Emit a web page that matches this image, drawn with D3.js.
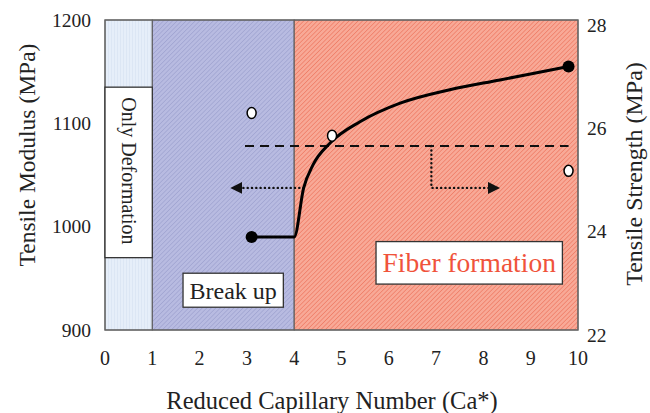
<!DOCTYPE html>
<html>
<head>
<meta charset="utf-8">
<script src="https://cdn.jsdelivr.net/npm/d3@7"></script>
</head>
<body style="margin:0">
<script>
// regions along the reduced capillary number
var regionNames = ["Only Deformation", "Break up", "Fiber formation"];
var regionStart = [0, 1, 4];
var regionEnd = [1, 4, 10];

// tick labels
var xTicks = [0, 1, 2, 3, 4, 5, 6, 7, 8, 9, 10];
var modulusTicks = [900, 1000, 1100, 1200];
var strengthTicks = [22, 24, 26, 28];

// tensile strength (filled dots, right axis)
var strengthCa = [3.1, 9.8];
var strengthVal = [23.8, 27.1];

// trend curve through strength (right axis)
var trendCa = [3.1, 4.0, 4.2, 4.4, 4.76, 5.39, 6.24, 7.29, 8.35, 9.8];
var trendVal = [23.8, 23.8, 24.75, 25.2, 25.62, 26.03, 26.39, 26.65, 26.84, 27.1];

// tensile modulus (open dots, left axis)
var modulusCa = [3.1, 4.8, 9.8];
var modulusVal = [1110, 1088, 1054];

// dashed level of modulus
var levelCa = [2.96, 9.8];
var levelVal = 1078;

// dotted arrows (strength level)
var arrowLevel = 24.75;
var arrowLeftCa = [4.2, 2.7];
var arrowRightCa = [6.9, 8.3];

var serif = "Liberation Serif";
var ink = "#222";

// set the dimensions and margins of the graph
var margin = {top: 20, right: 72, bottom: 83, left: 105},
    width = 650 - margin.left - margin.right,
    height = 413 - margin.top - margin.bottom;

var svg = d3.select("body")
  .append("svg")
    .attr("width", width + margin.left + margin.right)
    .attr("height", height + margin.top + margin.bottom);

var g = svg.append("g")
  .attr("transform", "translate(" + margin.left + "," + margin.top + ")");

var x = d3.scaleLinear().domain([0, 10]).range([0, width]);
var yL = d3.scaleLinear().domain([900, 1200]).range([height, 0]);
var yR = d3.scaleLinear().domain([22, 28]).range([height, 0]);

// patterns for the regions
var defs = svg.append("defs");

function hatch(id, base, line, size, angle, lw) {
  var p = defs.append("pattern")
    .attr("id", id)
    .attr("patternUnits", "userSpaceOnUse")
    .attr("width", size).attr("height", size)
    .attr("patternTransform", "rotate(" + angle + ")");
  p.append("rect").attr("width", size).attr("height", size).attr("fill", base);
  p.append("line")
    .attr("x1", 0).attr("y1", 0).attr("x2", 0).attr("y2", size)
    .attr("stroke", line).attr("stroke-width", lw);
}
hatch("pDeform", "#e6eef9", "#d2def0", 3, 0, 1);
hatch("pBreak", "#b8bbe1", "#989ccc", 3.2, 45, 1.1);
hatch("pFiber", "#f8a997", "#ee7660", 3.2, 45, 1.3);
var fills = ["url(#pDeform)", "url(#pBreak)", "url(#pFiber)"];

g.selectAll(".region")
  .data(regionNames)
  .enter().append("rect")
    .attr("class", "region")
    .attr("x", (d, i) => x(regionStart[i]))
    .attr("width", (d, i) => x(regionEnd[i]) - x(regionStart[i]))
    .attr("y", 0)
    .attr("height", height)
    .attr("fill", (d, i) => fills[i])
    .attr("stroke", "#555")
    .attr("stroke-width", 1);

// frame
g.append("rect")
  .attr("width", width).attr("height", height)
  .attr("fill", "none").attr("stroke", "#666").attr("stroke-width", 1.2);

// "Only Deformation" box (vertical text)
var odTop = yL(1135), odBot = yL(970);
g.append("rect")
  .attr("x", x(0)).attr("y", odTop)
  .attr("width", x(1) - x(0)).attr("height", odBot - odTop)
  .attr("fill", "#fff").attr("stroke", "#333").attr("stroke-width", 1.3);
g.append("text")
  .attr("transform", "translate(" + (x(0.5)) + "," + yL(1054) + ") rotate(90)")
  .attr("text-anchor", "middle")
  .attr("dy", "0.33em")
  .attr("font-family", serif)
  .attr("font-size", 20)
  .attr("fill", ink)
  .text(regionNames[0]);

// labelled boxes
function labelBox(txt, cx, cy, size, color, padX, padY) {
  var t = g.append("text")
    .attr("x", cx).attr("y", cy)
    .attr("text-anchor", "middle")
    .attr("dy", "0.35em")
    .attr("font-family", serif)
    .attr("font-size", size)
    .attr("fill", color)
    .text(txt);
  var w = t.node().getComputedTextLength();
  g.insert("rect", function() { return t.node(); })
    .attr("x", cx - w / 2 - padX).attr("y", cy - size / 2 - padY)
    .attr("width", w + 2 * padX).attr("height", size + 2 * padY)
    .attr("fill", "#fff").attr("stroke", "#333").attr("stroke-width", 1.3);
}
labelBox(regionNames[1], x(2.71), yR(22.77), 24, ink, 6.5, 5);
labelBox(regionNames[2], x(7.7), yR(23.3), 27.5, "#f0533b", 6.5, 7.5);

// dashed modulus level
g.append("line")
  .attr("x1", x(levelCa[0])).attr("x2", x(levelCa[1]))
  .attr("y1", yL(levelVal)).attr("y2", yL(levelVal))
  .attr("stroke", "#111").attr("stroke-width", 2)
  .attr("stroke-dasharray", "9,6");

// dotted arrows
defs.append("marker")
  .attr("id", "ah")
  .attr("viewBox", "0 0 10 10")
  .attr("refX", 8).attr("refY", 5)
  .attr("markerWidth", 5).attr("markerHeight", 5)
  .attr("orient", "auto")
  .append("path").attr("d", "M0,0L10,5L0,10z").attr("fill", "#111");

var line = d3.line().x(d => x(d[0])).y(d => d[1]);
g.append("path")
  .attr("d", line([[arrowLeftCa[0], yR(arrowLevel)], [arrowLeftCa[1], yR(arrowLevel)]]))
  .attr("fill", "none").attr("stroke", "#111").attr("stroke-width", 2.4)
  .attr("stroke-dasharray", "0.1,4.2").attr("stroke-linecap", "round")
  .attr("marker-end", "url(#ah)");
g.append("path")
  .attr("d", line([[arrowRightCa[0], yL(levelVal)], [arrowRightCa[0], yR(arrowLevel)], [arrowRightCa[1], yR(arrowLevel)]]))
  .attr("fill", "none").attr("stroke", "#111").attr("stroke-width", 2.4)
  .attr("stroke-dasharray", "0.1,4.2").attr("stroke-linecap", "round")
  .attr("marker-end", "url(#ah)");

// trend curve
g.append("path")
  .datum(trendCa.map((c, i) => [c, trendVal[i]]))
  .attr("d", d3.line().x(d => x(d[0])).y(d => yR(d[1])).curve(d3.curveMonotoneX))
  .attr("fill", "none").attr("stroke", "#000").attr("stroke-width", 3);

// strength points
g.selectAll(".sdot")
  .data(strengthCa)
  .enter().append("circle")
    .attr("class", "sdot")
    .attr("cx", d => x(d))
    .attr("cy", (d, i) => yR(strengthVal[i]))
    .attr("r", 6)
    .attr("fill", "#000");

// modulus points
g.selectAll(".mdot")
  .data(modulusCa)
  .enter().append("ellipse")
    .attr("class", "mdot")
    .attr("cx", d => x(d))
    .attr("cy", (d, i) => yL(modulusVal[i]))
    .attr("rx", 4.5).attr("ry", 5.5)
    .attr("fill", "#fff")
    .attr("stroke", "#000").attr("stroke-width", 1.5);

// axes tick labels
g.selectAll(".xt")
  .data(xTicks)
  .enter().append("text")
    .attr("class", "xt")
    .attr("x", d => x(d))
    .attr("y", height + 35)
    .attr("text-anchor", "middle")
    .attr("font-family", serif)
    .attr("font-size", 20)
    .attr("fill", ink)
    .text(d => d);

g.selectAll(".yl")
  .data(modulusTicks)
  .enter().append("text")
    .attr("class", "yl")
    .attr("x", -14)
    .attr("y", d => yL(d))
    .attr("dy", "0.35em")
    .attr("text-anchor", "end")
    .attr("font-family", serif)
    .attr("font-size", 19.5)
    .attr("fill", ink)
    .text(d => d);

g.selectAll(".yr")
  .data(strengthTicks)
  .enter().append("text")
    .attr("class", "yr")
    .attr("x", width + 9)
    .attr("y", d => yR(d) + 5)
    .attr("dy", "0.35em")
    .attr("text-anchor", "start")
    .attr("font-family", serif)
    .attr("font-size", 19.5)
    .attr("fill", ink)
    .text(d => d);

// axis titles
function title(txt, tx, ty, rot, size) {
  svg.append("text")
    .attr("transform", "translate(" + tx + "," + ty + ") rotate(" + rot + ")")
    .attr("text-anchor", "middle")
    .attr("dy", "0.35em")
    .attr("font-family", serif)
    .attr("font-size", size)
    .attr("fill", ink)
    .text(txt);
}
title("Tensile Modulus (MPa)", 27, 155, -90, 23.5);
title("Tensile Strength (MPa)", 634, 174, -90, 24);
title("Reduced Capillary Number (Ca*)", 332, 400, 0, 24.5);
</script>
</body>
</html>
